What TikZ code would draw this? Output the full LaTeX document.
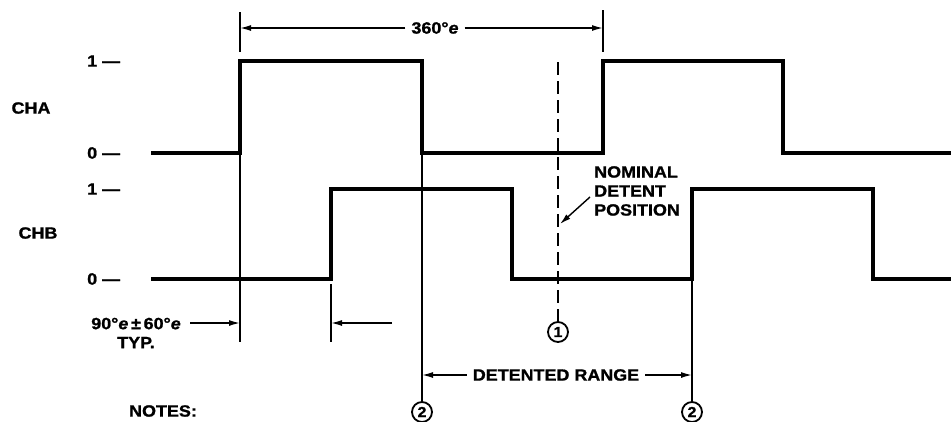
\documentclass[tikz,border=0pt]{standalone}
\usepackage{fontspec}
\setmainfont{Liberation Sans}
\newfontfamily\lblfont[FakeStretch=1.1,FakeBold=1.2]{Liberation Sans Bold}
\newfontfamily\lblit[FakeStretch=1.1,FakeBold=1.2]{Liberation Sans Bold Italic}
\newcommand{\ee}{{\lblit e}}
\usetikzlibrary{arrows.meta}
\begin{document}
\begin{tikzpicture}[x=1pt,y=-1pt,
  wave/.style={line width=3.5pt, line join=miter},
  thinline/.style={line width=1.4pt},
  dimarrow/.style={line width=1.4pt,-{Latex[length=11pt,width=6pt]}},
  lbl/.style={font=\fontsize{16.3}{19}\lblfont, inner sep=0pt},
  circnum/.style={circle, draw, line width=1.8pt, inner sep=0pt, minimum size=20pt, font=\fontsize{14.5}{14.5}\lblfont}]
\useasboundingbox (0,0) rectangle (951,421);

% axis labels
\node[lbl, anchor=west] (a1) at (87,61) {1 —};
\node[lbl] (cha) at (31,108) {CHA};
\node[lbl, anchor=west] (a0) at (87,153) {0 —};
\node[lbl, anchor=west] (b1) at (87,189) {1 —};
\node[lbl] (chb) at (38,233) {CHB};
\node[lbl, anchor=west] (b0) at (87,279) {0 —};

% waveforms
\draw[wave] (151,153) -- (240,153) -- (240,61) -- (422,61) -- (422,153) -- (603,153) -- (603,61) -- (783,61) -- (783,153) -- (951,153);
\draw[wave] (151,279) -- (331,279) -- (331,189) -- (512,189) -- (512,279) -- (692,279) -- (692,189) -- (873,189) -- (873,279) -- (951,279);

% 360 dimension
\coordinate (e1t) at (240,12);
\coordinate (e1b) at (240,52);
\coordinate (e2t) at (603,10);
\coordinate (e2b) at (603,52);
\draw[thinline] (e1t) -- (e1b);
\draw[thinline] (e2t) -- (e2b);
\node[lbl] (d360) at (435,28) {360°\ee};
\coordinate (d360l) at (240,28);
\coordinate (d360r) at (603,28);
\draw[dimarrow] (d360.west) ++(-6,0) -- (d360l);
\draw[dimarrow] (d360.east) ++(6,0) -- (d360r);

% 90 +- 60 dimension
\coordinate (x1t) at (240,153);
\coordinate (x1b) at (240,342);
\coordinate (x2t) at (331,284);
\coordinate (x2b) at (331,342);
\draw[thinline] (x1t) -- (x1b);
\draw[thinline] (x2t) -- (x2b);
\node[lbl, align=center] (d90) at (136,333) {90°\ee\,±\,60°\ee\\TYP.};
\coordinate (d90l) at (240,323);
\coordinate (d90r) at (331,323);
\coordinate (d90s) at (190,323);
\coordinate (d90e) at (392,323);
\draw[dimarrow] (d90s) -- (d90l);
\draw[dimarrow] (d90e) -- (d90r);

% detented range
\coordinate (r1t) at (422,153);
\coordinate (r2t) at (692,279);
\node[circnum] (c2a) at (422,412) {2};
\node[circnum] (c2b) at (692,412) {2};
\draw[thinline] (r1t) -- (c2a.north);
\draw[thinline] (r2t) -- (c2b.north);
\node[lbl] (rng) at (556,375) {DETENTED RANGE};
\coordinate (rl) at (422,375);
\coordinate (rr) at (692,375);
\draw[dimarrow] (rng.west) ++(-6,0) -- (rl);
\draw[dimarrow] (rng.east) ++(6,0) -- (rr);

% nominal detent
\coordinate (nt) at (558,62);
\node[circnum] (c1) at (558,332) {1};
\draw[line width=1.5pt, dash pattern=on 13pt off 6pt] (nt) -- (c1.north);
\node[lbl, align=left, anchor=north west] (nom) at (594,166) {NOMINAL\\DETENT\\POSITION};
\coordinate (np) at (560,224);
\draw[dimarrow] (590,197) -- (np);

\node[lbl] (notes) at (163,411) {NOTES:};
\end{tikzpicture}
\end{document}
